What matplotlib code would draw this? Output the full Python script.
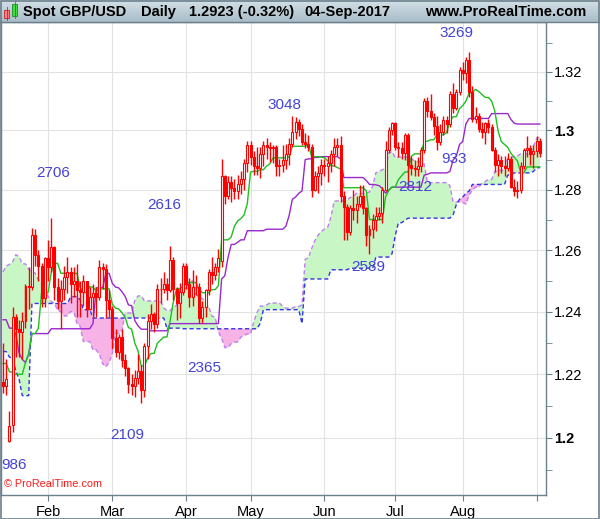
import numpy as np
import pandas as pd
import matplotlib
matplotlib.use('Agg')
import matplotlib.pyplot as plt
from matplotlib.patches import Rectangle
from matplotlib.ticker import NullFormatter

plt.rcParams['font.family'] = ['Liberation Sans', 'DejaVu Sans']

# warm-up highs/lows for the Ichimoku lines, 26-Sep-2016 .. 11-Jan-2017
pre_high = [1.2990, 1.3030, 1.3055, 1.3020, 1.3010,
            1.2930, 1.2880, 1.2770, 1.2750, 1.2630, 1.2445, 1.2375, 1.2310, 1.2320, 1.2295,
            1.2240, 1.2335, 1.2335, 1.2330, 1.2265, 1.2255, 1.2210, 1.2240, 1.2245, 1.2275, 1.2275,
            1.2285, 1.2335, 1.2505, 1.2515, 1.2455, 1.2440, 1.2545, 1.2600, 1.2675,
            1.2560, 1.2485, 1.2485, 1.2510, 1.2435, 1.2460, 1.2495, 1.2480, 1.2485, 1.2490,
            1.2480, 1.2495, 1.2515,
            1.2640, 1.2695, 1.2745, 1.2775, 1.2695, 1.2650, 1.2615, 1.2700, 1.2710, 1.2670,
            1.2550, 1.2510, 1.2490, 1.2395, 1.2380, 1.2375, 1.2300, 1.2295, 1.2295, 1.2300,
            1.2310, 1.2375,
            1.2355, 1.2300, 1.2320, 1.2430, 1.2415, 1.2255, 1.2225, 1.2225]
pre_low = [1.2915, 1.2945, 1.2960, 1.2935, 1.2905,
           1.2840, 1.2705, 1.2685, 1.2610, 1.1491, 1.2335, 1.2085, 1.2120, 1.2140, 1.2130,
           1.2125, 1.2135, 1.2250, 1.2220, 1.2190, 1.2160, 1.2080, 1.2120, 1.2140, 1.2125, 1.2135,
           1.2180, 1.2210, 1.2285, 1.2420, 1.2380, 1.2360, 1.2300, 1.2360, 1.2515,
           1.2400, 1.2370, 1.2410, 1.2385, 1.2300, 1.2335, 1.2400, 1.2310, 1.2365, 1.2395,
           1.2360, 1.2370, 1.2400,
           1.2495, 1.2540, 1.2520, 1.2660, 1.2585, 1.2545, 1.2535, 1.2545, 1.2600, 1.2470,
           1.2375, 1.2405, 1.2370, 1.2335, 1.2320, 1.2265, 1.2250, 1.2255, 1.2240, 1.2225,
           1.2250, 1.2230,
           1.2280, 1.2200, 1.2270, 1.2290, 1.2270, 1.2125, 1.2105, 1.2040]

# daily bars 12-Jan-2017 .. 04-Sep-2017
opens = [1.2175, 1.2165, 1.1990, 1.2040, 1.2385, 1.2345, 1.2335, 1.2370, 1.2485, 1.2480, 1.2650, 1.2585, 1.2550, 1.2445,
         1.2575, 1.2545, 1.2610, 1.2480, 1.2435, 1.2475, 1.2515, 1.2530, 1.2490, 1.2500, 1.2470, 1.2465, 1.2500, 1.2410,
         1.2450, 1.2460, 1.2450, 1.2545, 1.2540, 1.2440,
         1.2410, 1.2315, 1.2270, 1.2320, 1.2245, 1.2220, 1.2170, 1.2165, 1.2190, 1.2210, 1.2150, 1.2290, 1.2370, 1.2395,
         1.2360, 1.2475, 1.2475, 1.2490, 1.2470, 1.2570, 1.2475, 1.2430, 1.2465,
         1.2550, 1.2490, 1.2450, 1.2480, 1.2480, 1.2380, 1.2415, 1.2470, 1.2530, 1.2520, 1.2545, 1.2565, 1.2845, 1.2780,
         1.2825, 1.2805, 1.2795, 1.2820, 1.2835, 1.2890,
         1.2950, 1.2910, 1.2880, 1.2875, 1.2920, 1.2950, 1.2945, 1.2940, 1.2945, 1.2880, 1.2885, 1.2900, 1.2920, 1.2955,
         1.2995, 1.3030, 1.3005, 1.2960, 1.2955, 1.2945, 1.2800, 1.2845, 1.2855,
         1.2885, 1.2880, 1.2890, 1.2920, 1.2945, 1.2950, 1.2780, 1.2745, 1.2660, 1.2740, 1.2735, 1.2755, 1.2780, 1.2740,
         1.2650, 1.2670, 1.2700, 1.2715, 1.2725, 1.2800, 1.2935, 1.3000,
         1.3025, 1.2945, 1.2940, 1.2925, 1.2985, 1.2885, 1.2875, 1.2870, 1.2880, 1.2935, 1.3100, 1.3065, 1.3045, 1.3015,
         1.2960, 1.2995, 1.3035, 1.3020, 1.3125, 1.3075, 1.3130,
         1.3205, 1.3195, 1.3240, 1.3130, 1.3040, 1.3050, 1.3005, 1.2995, 1.3025, 1.3010, 1.2935, 1.2885, 1.2900, 1.2880,
         1.2875, 1.2905, 1.2810, 1.2795, 1.2800, 1.2880, 1.2935, 1.2940, 1.2920,
         1.2930, 1.2965]
highs = [1.2300, 1.2250, 1.2085, 1.2415, 1.2395, 1.2375, 1.2400, 1.2490, 1.2545, 1.2675, 1.2672, 1.2600, 1.2560, 1.2580,
         1.2635, 1.2706, 1.2615, 1.2510, 1.2505, 1.2550, 1.2580, 1.2545, 1.2545, 1.2555, 1.2500, 1.2520, 1.2500, 1.2480,
         1.2490, 1.2480, 1.2570, 1.2560, 1.2555, 1.2470,
         1.2420, 1.2345, 1.2330, 1.2345, 1.2265, 1.2225, 1.2200, 1.2215, 1.2265, 1.2230, 1.2300, 1.2395, 1.2425, 1.2400,
         1.2490, 1.2510, 1.2530, 1.2510, 1.2616, 1.2580, 1.2480, 1.2495, 1.2560,
         1.2560, 1.2510, 1.2535, 1.2520, 1.2495, 1.2435, 1.2475, 1.2540, 1.2580, 1.2560, 1.2605, 1.2905, 1.2850, 1.2845,
         1.2845, 1.2835, 1.2850, 1.2865, 1.2905, 1.2965,
         1.2965, 1.2930, 1.2945, 1.2945, 1.2965, 1.2975, 1.2960, 1.2950, 1.2950, 1.2905, 1.2950, 1.2955, 1.2975, 1.3048,
         1.3045, 1.3040, 1.3020, 1.2990, 1.2985, 1.2955, 1.2865, 1.2880, 1.2905,
         1.2905, 1.2915, 1.2935, 1.2975, 1.2975, 1.2980, 1.2795, 1.2755, 1.2750, 1.2800, 1.2780, 1.2815, 1.2815, 1.2745,
         1.2685, 1.2720, 1.2745, 1.2745, 1.2810, 1.2965, 1.3010, 1.3030,
         1.3030, 1.2960, 1.2960, 1.2990, 1.2990, 1.2915, 1.2900, 1.2910, 1.2945, 1.3110, 1.3115, 1.3125, 1.3060, 1.3050,
         1.3020, 1.3050, 1.3050, 1.3135, 1.3160, 1.3140, 1.3215,
         1.3235, 1.3250, 1.3269, 1.3150, 1.3080, 1.3060, 1.3030, 1.3030, 1.3040, 1.3020, 1.2945, 1.2920, 1.2915, 1.2915,
         1.2925, 1.2915, 1.2835, 1.2830, 1.2895, 1.2940, 1.2980, 1.2950, 1.2950,
         1.2980, 1.2975]
lows = [1.2140, 1.2135, 1.1986, 1.2020, 1.2255, 1.2255, 1.2250, 1.2350, 1.2410, 1.2470, 1.2550, 1.2500, 1.2415, 1.2415,
        1.2500, 1.2530, 1.2440, 1.2410, 1.2345, 1.2440, 1.2460, 1.2430, 1.2450, 1.2385, 1.2385, 1.2420, 1.2385, 1.2405,
        1.2380, 1.2385, 1.2440, 1.2475, 1.2380, 1.2385,
        1.2280, 1.2255, 1.2250, 1.2225, 1.2195, 1.2140, 1.2135, 1.2130, 1.2170, 1.2109, 1.2130, 1.2250, 1.2345, 1.2335,
        1.2350, 1.2430, 1.2460, 1.2440, 1.2465, 1.2440, 1.2375, 1.2380, 1.2455,
        1.2475, 1.2415, 1.2420, 1.2455, 1.2365, 1.2365, 1.2385, 1.2455, 1.2490, 1.2505, 1.2530, 1.2545, 1.2755, 1.2770,
        1.2760, 1.2770, 1.2770, 1.2785, 1.2800, 1.2860,
        1.2885, 1.2850, 1.2850, 1.2840, 1.2880, 1.2905, 1.2895, 1.2890, 1.2845, 1.2845, 1.2860, 1.2870, 1.2885, 1.2945,
        1.2970, 1.2980, 1.2950, 1.2940, 1.2930, 1.2775, 1.2795, 1.2790, 1.2815,
        1.2845, 1.2825, 1.2860, 1.2880, 1.2915, 1.2760, 1.2635, 1.2635, 1.2650, 1.2700, 1.2690, 1.2745, 1.2720, 1.2615,
        1.2589, 1.2640, 1.2665, 1.2700, 1.2690, 1.2795, 1.2925, 1.2985,
        1.2935, 1.2910, 1.2905, 1.2900, 1.2812, 1.2850, 1.2845, 1.2845, 1.2860, 1.2925, 1.3045, 1.3035, 1.2985, 1.2933,
        1.2950, 1.2985, 1.2990, 1.3010, 1.3060, 1.3070, 1.3120,
        1.3170, 1.3160, 1.3115, 1.3030, 1.3025, 1.2995, 1.2975, 1.2955, 1.2990, 1.2930, 1.2860, 1.2845, 1.2855, 1.2845,
        1.2865, 1.2805, 1.2780, 1.2774, 1.2790, 1.2870, 1.2910, 1.2885, 1.2875,
        1.2910, 1.2910]
closes = [1.2165, 1.2185, 1.2036, 1.2385, 1.2345, 1.2335, 1.2370, 1.2485, 1.2480, 1.2650, 1.2585, 1.2550, 1.2445, 1.2575,
          1.2545, 1.2610, 1.2480, 1.2435, 1.2475, 1.2515, 1.2530, 1.2490, 1.2500, 1.2470, 1.2465, 1.2500, 1.2410, 1.2450,
          1.2460, 1.2450, 1.2545, 1.2540, 1.2440, 1.2410,
          1.2315, 1.2270, 1.2320, 1.2245, 1.2220, 1.2170, 1.2165, 1.2190, 1.2210, 1.2150, 1.2290, 1.2370, 1.2395, 1.2360,
          1.2475, 1.2475, 1.2490, 1.2470, 1.2570, 1.2475, 1.2430, 1.2465, 1.2550,
          1.2490, 1.2450, 1.2480, 1.2480, 1.2380, 1.2415, 1.2470, 1.2530, 1.2520, 1.2545, 1.2575, 1.2845, 1.2780, 1.2825,
          1.2805, 1.2795, 1.2820, 1.2835, 1.2890, 1.2950,
          1.2910, 1.2880, 1.2875, 1.2920, 1.2950, 1.2945, 1.2940, 1.2945, 1.2880, 1.2885, 1.2900, 1.2920, 1.2955, 1.2995,
          1.3030, 1.3005, 1.2960, 1.2955, 1.2945, 1.2800, 1.2845, 1.2855, 1.2885,
          1.2880, 1.2890, 1.2920, 1.2945, 1.2950, 1.2780, 1.2745, 1.2660, 1.2740, 1.2735, 1.2755, 1.2780, 1.2740, 1.2650,
          1.2670, 1.2700, 1.2715, 1.2725, 1.2800, 1.2935, 1.3000, 1.3025,
          1.2945, 1.2940, 1.2925, 1.2985, 1.2885, 1.2875, 1.2870, 1.2880, 1.2935, 1.3100, 1.3065, 1.3045, 1.3015, 1.2960,
          1.2995, 1.3035, 1.3020, 1.3125, 1.3075, 1.3130, 1.3205,
          1.3195, 1.3240, 1.3130, 1.3040, 1.3050, 1.3005, 1.2995, 1.3025, 1.3010, 1.2935, 1.2885, 1.2900, 1.2880, 1.2875,
          1.2905, 1.2810, 1.2795, 1.2800, 1.2880, 1.2935, 1.2940, 1.2920, 1.2930,
          1.2965, 1.2923]

# swing labels: text, bar position, price
swing_text = ['986', '2706', '2109', '2616', '2365', '3048', '2589', '2812', '933', '3269']
swing_bar = [3.4, 15.6, 38.6, 50.1, 62.5, 87.4, 113.6, 128.3, 140.3, 140.9]
swing_price = [1.1916, 1.2857, 1.2010, 1.2750, 1.2219, 1.3086, 1.2547, 1.2810, 1.2905, 1.3334]

y_major = [1.20, 1.22, 1.24, 1.26, 1.28, 1.30, 1.32]
y_major_labels = ['1.2', '1.22', '1.24', '1.26', '1.28', '1.3', '1.32']
y_minor = [1.19, 1.21, 1.23, 1.25, 1.27, 1.29, 1.31, 1.33]

dates = pd.bdate_range('2017-01-12', '2017-09-04')
n = len(dates)
x = np.arange(n)
o = np.array(opens); h = np.array(highs); l = np.array(lows); c = np.array(closes)

# Ichimoku 9/26/52
H = pd.Series(pre_high + highs)
L = pd.Series(pre_low + lows)
tenkan = (H.rolling(9).max() + L.rolling(9).min()) / 2
kijun = (H.rolling(26).max() + L.rolling(26).min()) / 2
span_a = ((tenkan + kijun) / 2).shift(26)
span_b = ((H.rolling(52).max() + L.rolling(52).min()) / 2).shift(26)
k0 = len(pre_high)
tenkan = tenkan.values[k0:]; kijun = kijun.values[k0:]
span_a = span_a.values[k0:]; span_b = span_b.values[k0:]

W, Hh = 600, 519
fig = plt.figure(figsize=(W / 100, Hh / 100), dpi=100)
fig.patch.set_facecolor('white')

frame = '#6c7f8c'
ax = fig.add_axes([1 / W, 1 - 495 / Hh, 545 / W, 473 / Hh])
ax.set_yscale('log')

# cloud
ax.fill_between(x, span_a, span_b, where=span_a >= span_b, interpolate=True,
                color='#c8f7c5', lw=0, zorder=1)
ax.fill_between(x, span_a, span_b, where=span_a < span_b, interpolate=True,
                color='#f7b2e6', lw=0, zorder=1)
ax.plot(x, span_a, color='#c07ef0', lw=1, ls=(0, (3, 2)), zorder=2)
ax.plot(x, span_b, color='#3434e6', lw=1, ls=(0, (3, 2)), zorder=2)
ax.plot(x, kijun, color='#9a28cc', lw=1, zorder=2)
ax.plot(x, tenkan, color='#1fbf1f', lw=1, zorder=2)

# candles: hollow up, filled down
up = c >= o
ax.vlines(x, l, h, color='#ff0000', lw=1, zorder=3)
body_lo = np.minimum(o, c)
body_h = np.abs(c - o)
ax.bar(x, body_h, bottom=body_lo, width=0.62,
       color=np.where(up, 'white', '#ff0000'), edgecolor='#ff0000', lw=0.8, zorder=4)

for t, bx, by in zip(swing_text, swing_bar, swing_price):
    ax.text(bx, by, t, color='#4343d6', fontsize=11, ha='center', va='center', zorder=6)

ax.text(0.006, 0.012, '\u00a9 ProRealTime.com', transform=ax.transAxes, color='#ff1a1a',
        fontsize=7.8, ha='left', va='bottom', zorder=6)

ax.set_xlim(-0.62, 168.9)
ax.set_ylim(1.18233, 1.33719)

# month ticks at first bar of each month
month_pos = [int(np.argmax(dates.month == m)) for m in range(2, 10)]
month_lab = [d.strftime('%b') for d in dates[month_pos]]
month_lab[-1] = ''
ax.set_xticks(month_pos, month_lab)
ax.yaxis.tick_right()
ax.set_yticks(y_major, y_major_labels)
ax.set_yticks(y_minor, minor=True)
ax.yaxis.set_minor_formatter(NullFormatter())
for lab in ax.get_yticklabels():
    if lab.get_text() in ('1.3', '1.2'):
        lab.set_fontweight('bold')
ax.tick_params(axis='both', which='both', direction='out', length=4, color=frame,
               labelsize=10.5, labelcolor='black', pad=2)
ax.tick_params(axis='x', pad=3)
ax.grid(True, which='major', color='#e2e2e2', lw=0.8, zorder=0)
ax.set_axisbelow(True)
for s in ax.spines.values():
    s.set_color(frame)
    s.set_linewidth(1)

# header bar
hax = fig.add_axes([0, 1 - 22 / Hh, 1, 22 / Hh])
grad = np.linspace(0, 1, 50).reshape(-1, 1)
hax.imshow(grad, aspect='auto', cmap=matplotlib.colors.LinearSegmentedColormap.from_list(
    'hdr', ['#d3e0e7', '#a8bcc8']), extent=[0, 1, 0, 1])
hax.set_xlim(0, 1); hax.set_ylim(0, 1)
hax.axis('off')
hax.add_patch(Rectangle((4 / W, 0.18), 5 / W, 0.38, facecolor='#ff8080', edgecolor='#cc2222', lw=0.6))
hax.add_patch(Rectangle((12 / W, 0.28), 5 / W, 0.55, facecolor='#40dd40', edgecolor='#208a20', lw=0.6))
hax.plot([6.5 / W, 6.5 / W], [0.08, 0.7], color='#cc2222', lw=0.6)
hax.plot([14.5 / W, 14.5 / W], [0.18, 0.95], color='#208a20', lw=0.6)
hdr_y = 0.45
hax.text(23 / W, hdr_y, 'Spot GBP/USD', fontsize=10.5, fontweight='bold', va='center', ha='left')
hax.text(141 / W, hdr_y, 'Daily', fontsize=10.5, fontweight='bold', va='center', ha='left')
hax.text(189 / W, hdr_y, '1.2923 (-0.32%)', fontsize=10.5, fontweight='bold', va='center', ha='left')
hax.text(304 / W, hdr_y, '04-Sep-2017', fontsize=10.5, fontweight='bold', va='center', ha='left')
hax.text(586 / W, hdr_y, 'www.ProRealTime.com', fontsize=10.5, fontweight='bold', va='center', ha='right')

# outer frame and header underline
fig.add_artist(Rectangle((0.5 / W, 0.5 / Hh), (W - 1.5) / W, (Hh - 1.5) / Hh, transform=fig.transFigure,
                         fill=False, edgecolor=frame, lw=1.2))
fig.add_artist(plt.Line2D([0, 1], [1 - 22 / Hh, 1 - 22 / Hh], transform=fig.transFigure, color=frame, lw=1))

fig.savefig('out.png', dpi=100)
